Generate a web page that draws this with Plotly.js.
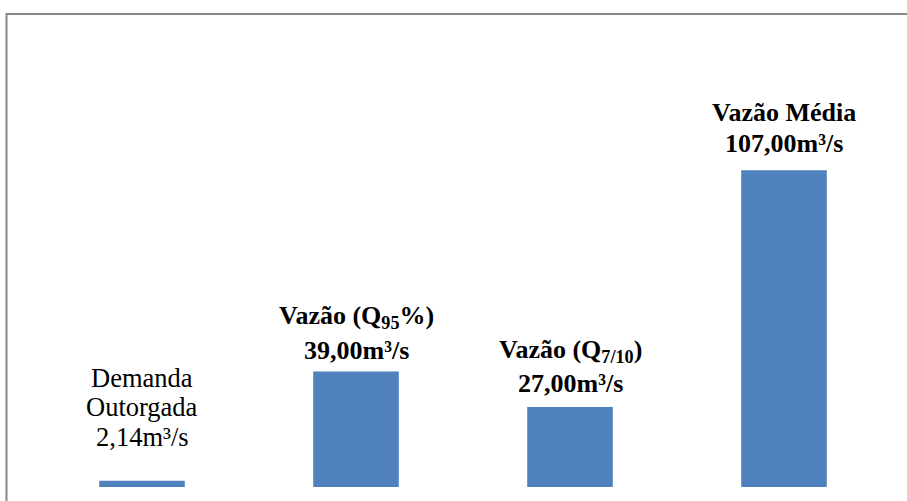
<!DOCTYPE html>
<html>
<head>
<meta charset="utf-8">
<script src="https://cdn.plot.ly/plotly-3.0.1.min.js"></script>
<style>
html,body{margin:0;padding:0;background:#fff;}
#chart{width:907px;height:501px;}
</style>
</head>
<body>
<div id="chart"></div>
<script>
// Data
const categories = ["Demanda Outorgada", "Vazão (Q95%)", "Vazão (Q7/10)", "Vazão Média"];
const values = [2.14, 39.00, 27.00, 107.00];
const labelLines = [
  ["Demanda", "Outorgada", "2,14m³/s"],
  ["Vazão (Q<sub>95</sub>%)", "39,00m³/s"],
  ["Vazão (Q<sub>7/10</sub>)", "27,00m³/s"],
  ["Vazão Média", "107,00m³/s"]
];
const labelBold = [false, true, true, true];

// baseline offsets (px above bar top) for each label line
const lineOffsets = [[92, 63, 33], [43, 11], [44, 13], [47, 16]];

const trace = {
  type: "bar",
  x: categories,
  y: values,
  marker: {color: "#4f81bd", line: {width: 0}},
  width: 0.4,
  hoverinfo: "skip"
};

const annotations = [];
categories.forEach((c, i) => {
  const size = labelBold[i] ? 26 : 26.5;
  labelLines[i].forEach((line, j) => {
    annotations.push({
      x: c, y: values[i], xref: "x", yref: "y",
      text: labelBold[i] ? "<b>" + line + "</b>" : line,
      showarrow: false,
      yanchor: "bottom", xanchor: "center",
      yshift: lineOffsets[i][j] - Math.round(size * 0.24),
      align: "center",
      font: {family: "Liberation Serif", size: size, color: "#000000"}
    });
  });
});

const layout = {
  width: 907, height: 501,
  margin: {l: 35, r: 16, t: 43, b: 14, pad: 0},
  paper_bgcolor: "#ffffff",
  plot_bgcolor: "#ffffff",
  showlegend: false,
  xaxis: {
    type: "category", range: [-0.5, 3.5],
    showticklabels: false, showgrid: false, zeroline: false, showline: false, ticks: ""
  },
  yaxis: {
    range: [0, 150],
    showticklabels: false, showgrid: false, zeroline: false, showline: false, ticks: ""
  },
  annotations: annotations,
  shapes: [{
    type: "rect", xref: "paper", yref: "paper",
    x0: -0.0333, x1: 1.2, y0: -0.3, y1: 1.0653,
    line: {color: "#878787", width: 2},
    fillcolor: "rgba(0,0,0,0)",
    layer: "below"
  }]
};

Plotly.newPlot("chart", [trace], layout, {displayModeBar: false, staticPlot: true});
</script>
</body>
</html>
